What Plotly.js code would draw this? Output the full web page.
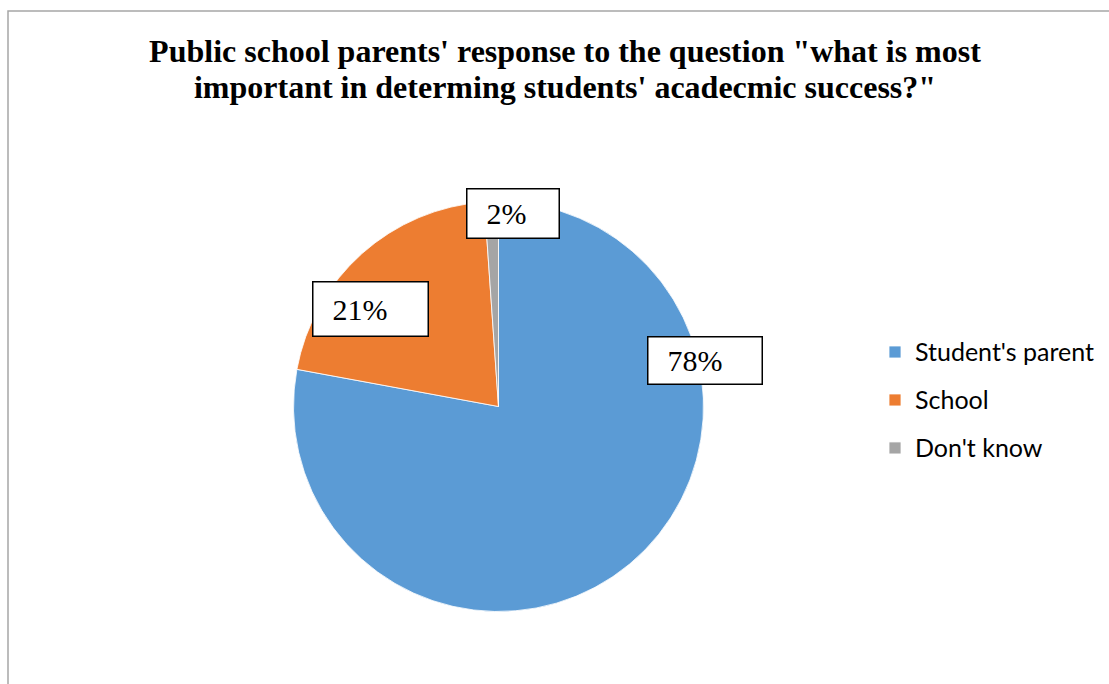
<!DOCTYPE html>
<html>
<head>
<meta charset="utf-8">
<script src="https://cdn.plot.ly/plotly-3.0.1.min.js"></script>
<style>
  html, body { margin: 0; padding: 0; background: #fff; }
  #chart { width: 1109px; height: 684px; }
</style>
</head>
<body>
<div id="chart"></div>
<script>
// ---- data ----
const categories = ["Student's parent", "School", "Don't know"];
const shares = [77.9, 21.0, 1.1];          // slice sizes
const shareLabels = ["78%", "21%", "2%"];  // data-label texts as printed
const sliceColors = ["#5B9BD5", "#ED7D31", "#A5A5A5"];
const titleLines = [
  'Public school parents\' response to the question "what is most',
  'important in determing students\' acadecmic success?"'
];

// ---- layout helpers (pixel positions of the label boxes) ----
const W = 1109, H = 684;
const px = x => x / W;
const py = y => 1 - y / H;
const labelBoxes = [
  {cx: 705.3, cy: 360.5, w: 116, h: 49},
  {cx: 370.5, cy: 308.7, w: 117, h: 56},
  {cx: 512.5, cy: 213.7, w: 94,  h: 51}
];

const pieCx = 498.5, pieCy = 406.5, pieR = 205;

const trace = {
  type: 'pie',
  labels: categories.map(c => "<span style='font-size:25px;baseline-shift:4px'>" + c + "</span>"),
  values: shares,
  sort: false,
  direction: 'clockwise',
  rotation: 0,
  textinfo: 'none',
  hoverinfo: 'label+percent',
  marker: { colors: sliceColors, line: { color: '#ffffff', width: 0.8 } },
  domain: {
    x: [px(pieCx - pieR), px(pieCx + pieR)],
    y: [py(pieCy + pieR), py(pieCy - pieR)]
  }
};

const annotations = shareLabels.map((t, i) => {
  const b = labelBoxes[i];
  const pad = 4, bw = 1.5;
  return {
    text: '\u00a0\u00a0' + t,
    xref: 'paper', yref: 'paper',
    x: px(b.cx), y: py(b.cy),
    xanchor: 'center', yanchor: 'middle',
    showarrow: false,
    align: 'left',
    width: b.w - 2 * pad - 2 * bw,
    height: b.h - 2 * pad - 2 * bw,
    borderpad: pad,
    borderwidth: bw,
    bordercolor: '#000000',
    bgcolor: '#ffffff',
    font: { family: 'Liberation Serif, Times New Roman, serif', size: 30, color: '#000000' }
  };
});

const layout = {
  width: W, height: H,
  margin: { l: 0, r: 0, t: 0, b: 0 },
  paper_bgcolor: '#ffffff',
  title: {
    text: titleLines.map(l => "<span style='font-size:32px'>" + l + "</span>").join('<br>'),
    font: { family: 'Liberation Serif, Times New Roman, serif', size: 28, color: '#000000', weight: 'bold' },
    xref: 'paper', x: px(565), xanchor: 'center',
    yref: 'container', y: py(62), yanchor: 'top'
  },
  showlegend: true,
  legend: {
    x: px(875), xanchor: 'left',
    y: py(400), yanchor: 'middle',
    font: { family: 'Lato, Liberation Sans, sans-serif', size: 34.6, color: '#000000' },
    bgcolor: 'rgba(0,0,0,0)'
  },
  annotations: annotations,
  shapes: [{
    type: 'rect', xref: 'paper', yref: 'paper',
    x0: px(8), x1: px(1200), y0: py(800), y1: py(11),
    line: { color: '#a6a6a6', width: 1.5 },
    fillcolor: 'rgba(0,0,0,0)',
    layer: 'below'
  }]
};

Plotly.newPlot('chart', [trace], layout, { displayModeBar: false, staticPlot: true });
</script>
</body>
</html>
